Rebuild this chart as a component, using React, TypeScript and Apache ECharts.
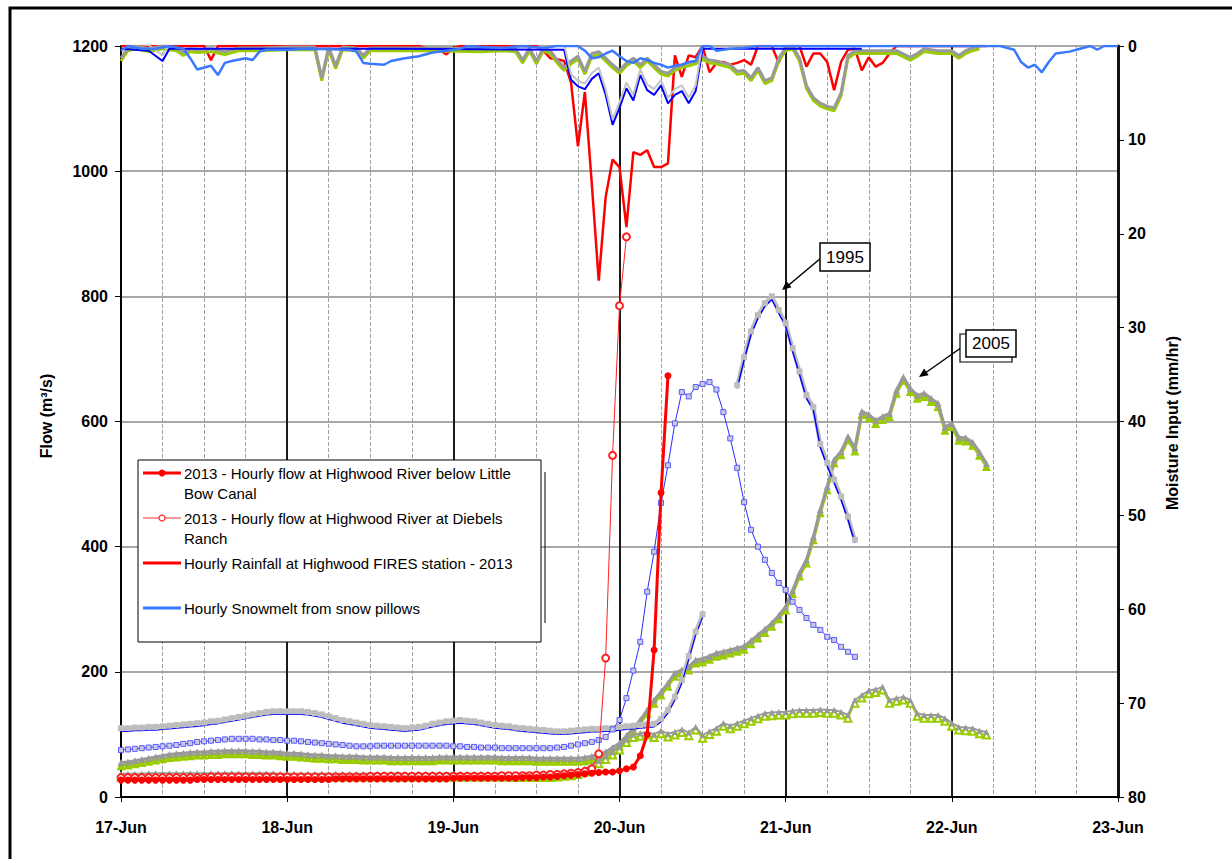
import React, { useEffect, useRef } from "react";
import * as echarts from "echarts";

const FONT = '"Liberation Sans", Arial, sans-serif';

const dayLabels = ["17-Jun", "18-Jun", "19-Jun", "20-Jun", "21-Jun", "22-Jun", "23-Jun"];

// hourly flows (m3/s), index = hours after 17-Jun 00:00 (plus start offset)
const littleBow2013 = [
  27, 27, 27, 27, 27, 27, 27, 27, 27, 27, 27, 28, 28, 28, 28, 28, 28, 28, 28, 28, 28, 28, 28, 28,
  28, 28, 28, 28, 28, 28, 28, 29, 29, 29, 29, 29, 29, 29, 29, 29, 29, 29, 29, 29, 29, 29, 29, 29,
  30, 30, 30, 30, 30, 30, 30, 30, 30, 30, 31, 31, 31, 32, 32, 33, 34, 35, 36, 37, 38, 39, 40, 40,
  42, 45, 48, 66, 100, 235, 486, 673,
];
const diebels2013 = [
  31, 31, 31, 31, 31, 31, 31, 31, 31, 31, 31, 31, 31, 32, 32, 32, 32, 32, 32, 32, 32, 32, 32, 32,
  32, 32, 32, 32, 32, 32, 32, 32, 32, 32, 32, 32, 33, 33, 33, 33, 33, 33, 33, 33, 33, 33, 33, 33,
  33, 33, 33, 33, 33, 33, 33, 34, 34, 34, 34, 34, 35, 35, 36, 36, 37, 38, 39, 41,
  45, 69, 222, 546, 785, 895,
];
const flow1995UpperA = [
  110, 110, 111, 111, 112, 112, 113, 114, 115, 116, 117, 118,
  119, 121, 122, 124, 126, 128, 130, 132, 134, 136, 137, 137,
  137, 137, 137, 136, 134, 132, 129, 126, 123, 121, 119, 117,
  115, 114, 113, 112, 111, 110, 111, 112, 114, 117, 119, 121,
  122, 123, 122, 121, 119, 117, 115, 114, 113, 111, 110, 109,
  108, 107, 106, 105, 105, 106, 107, 108, 109, 109, 110, 110,
  112, 113, 114, 115, 116, 117, 125, 139, 160, 187, 225, 264, 292,
];
const flow1995UpperBStart = 89;
const flow1995UpperB = [658, 703, 744, 770, 789, 800, 778, 757, 717, 680, 642, 623, 564, 534, 507, 480, 448, 411];
const flow1995Lower = [
  75, 76, 77, 78, 79, 80, 81, 82, 83, 85, 86, 88,
  89, 90, 91, 92, 93, 93, 93, 93, 92, 92, 91, 91,
  90, 90, 89, 88, 87, 86, 85, 84, 83, 82, 81, 81,
  81, 82, 82, 82, 82, 82, 82, 82, 82, 82, 82, 82,
  81, 81, 80, 80, 79, 79, 79, 78, 78, 78, 78, 78,
  78, 78, 78, 79, 80, 82, 84, 86, 88, 91, 96, 108,
  123, 158, 202, 248, 328, 392, 470, 530, 597, 647, 640, 655,
  660, 663, 651, 615, 573, 526, 471, 427, 400, 379, 358, 342,
  331, 312, 299, 286, 275, 267, 256, 251, 240, 232, 224,
];
const flow2005Upper = [
  55, 56, 58, 60, 62, 64, 66, 68, 69, 70, 71, 72,
  72, 73, 73, 74, 74, 74, 74, 73, 73, 72, 72, 71,
  70, 70, 69, 68, 67, 67, 66, 66, 65, 65, 65, 64,
  64, 64, 64, 63, 63, 63, 63, 63, 63, 63, 64, 64,
  64, 64, 64, 64, 64, 64, 64, 63, 63, 63, 63, 63,
  62, 62, 62, 62, 62, 62, 62, 63, 65, 67, 72, 79,
  86, 98, 110, 123, 139, 155, 168, 182, 198, 203, 208, 219,
  221, 225, 230, 232, 235, 238, 241, 250, 259, 268, 278, 290,
  304, 330, 358, 379, 416, 459, 496, 539, 552, 576, 558, 616,
  611, 602, 608, 613, 650, 671, 653, 642, 645, 637, 629, 591,
  597, 575, 574, 567, 551, 533,
];
const flow2005Lower = [
  37, 37, 37, 37, 38, 38, 38, 38, 38, 38, 38, 38,
  38, 38, 38, 38, 38, 38, 38, 38, 38, 38, 38, 37,
  37, 37, 37, 37, 37, 37, 37, 37, 37, 37, 37, 37,
  37, 37, 37, 37, 37, 37, 37, 37, 37, 37, 37, 37,
  37, 37, 37, 37, 37, 37, 37, 37, 37, 36, 36, 36,
  36, 36, 36, 37, 38, 39, 41, 45, 51, 58, 65, 72,
  80, 92, 100, 102, 104, 100, 106, 101, 104, 108, 103, 112,
  99, 105, 110, 118, 114, 118, 122, 126, 130, 134, 135, 136,
  136, 138, 139, 139, 139, 140, 139, 139, 136, 131, 155, 163,
  170, 172, 176, 155, 158, 160, 155, 134, 131, 131, 131, 126,
  118, 112, 111, 110, 106, 104,
];

// moisture input (mm/hr) as [hour, value]
const rain2013 = [
  [0, 0], [12, 0], [13, 1.5], [14, 0], [43, 0], [44, 0.2], [46, 0.4], [47, 0.9], [48, 0.2], [49, 0],
  [60, 0], [61, 0.5], [62, 1.3], [63, 1.4], [64, 1.6], [65, 3.9], [66, 10.7], [67, 4.9], [68, 14.7],
  [69, 25], [70, 16.1], [71, 12.1], [72, 12.9], [73, 19.3], [74, 11.3], [75, 11.6], [76, 11.1],
  [77, 12.9], [78, 12.9], [79, 12.5], [80, 1], [81, 3.3], [82, 1], [83, 1.2], [84, 0], [85, 2.8],
  [86, 1.8], [87, 1.7], [88, 2], [89, 1.8], [90, 1.5], [91, 2], [92, 0], [94, 0], [95, 1.8], [96, 0],
  [98, 0], [99, 2.2], [100, 0.8], [101, 0.8], [102, 1.7], [103, 4.7], [104, 1.7], [105, 0.4],
  [106, 0.3], [107, 2.6], [108, 1.2], [109, 2.2], [110, 1.8], [111, 0.8], [112, 0], [125, 0],
];
const snowmelt = [
  [0, 0.5], [1, 0], [3, 0.3], [5, 0.3], [7, 0], [9, 0.3], [10, 1.3], [11, 2.5], [13, 2.1], [14, 3.1],
  [15, 1.8], [16, 1.6], [18, 1.3], [19, 1.5], [20, 0.6], [21, 0.4], [24, 0.4], [27, 0.3], [33, 0.4],
  [34, 0.6], [35, 1.8], [36, 1.9], [38, 2], [39, 1.6], [41, 1.3], [43, 1.1], [45, 0.7], [47, 0.5],
  [49, 0.3], [50, 0], [55, 0.2], [58, 0], [61, 0.2], [63, 0], [66, 0], [67, 0.5], [68, 1.3], [69, 1.2],
  [70, 0.8], [71, 0.5], [72, 1.1], [73, 1.6], [74, 1.8], [75, 1.3], [76, 1.5], [77, 1.8], [78, 2],
  [79, 2.3], [80, 2.1], [81, 2], [82, 1.7], [83, 1.6], [84, 0], [85, 0], [86, 0.5], [88, 0.3],
  [90, 0.2], [92, 0], [125, 0], [127, 0], [129, 0.4], [130, 1.7], [131, 2.3], [132, 2], [133, 2.8],
  [134, 1.7], [135, 0.8], [137, 0.6], [138, 0.4], [140, 0], [141, 0.4], [142, 0], [144, 0],
];
const rain1995 = [
  [0, 0.3], [4, 0.5], [6, 1.6], [7, 0.3], [30, 0.3], [40, 0.3], [64, 0.4], [65, 3.6], [66, 4.3],
  [67, 4.6], [68, 3.5], [69, 2.9], [70, 5.2], [71, 8.4], [72, 6.6], [73, 4.5], [74, 5.8], [75, 3.1],
  [76, 4.7], [77, 5.2], [78, 4.2], [79, 6.1], [80, 5.2], [81, 4.8], [82, 6.1], [83, 4.8], [84, 0.3],
  [107, 0.3],
];
const rain2005 = [
  [0, 1.3], [1, 0.2], [2, 0], [4, 0.3], [6, 0], [8, 0.2], [9, 0.7], [10, 0.3], [11, 0.4], [13, 0.3],
  [15, 0.6], [17, 0.2], [20, 0.2], [24, 0.1], [28, 0.1], [29, 3.4], [30, 0.1], [31, 2.1], [32, 0.1],
  [34, 0.2], [35, 1], [36, 0.2], [45, 0.2], [52, 0.3], [55, 0.2], [57, 0.3], [58, 1.5], [59, 0.2],
  [60, 1.6], [61, 0.2], [62, 0.5], [63, 1.5], [64, 2.3], [65, 1.6], [66, 1.1], [67, 2.7], [68, 0.8],
  [69, 0.6], [70, 1.3], [71, 2], [72, 2.6], [73, 1.8], [74, 1.3], [75, 2], [76, 1.3], [77, 2],
  [78, 2.7], [79, 2.9], [80, 2.3], [81, 2], [82, 1.8], [83, 1.6], [84, 1.1], [85, 1.5], [86, 1.6],
  [87, 1.8], [88, 2], [89, 2.7], [90, 2.6], [91, 3.4], [92, 2.3], [93, 3.7], [94, 3.4], [95, 1.3],
  [96, 0.2], [97, 0], [98, 1.3], [99, 4.2], [100, 5.5], [101, 6.1], [102, 6.4], [103, 6.6], [104, 5],
  [105, 1], [106, 0.5], [108, 0.5], [110, 0.5], [112, 0.5], [114, 1.2], [115, 0.8], [116, 0.3],
  [118, 0.5], [120, 0.5], [121, 1], [122, 0.5], [123, 0.2], [124, 0],
];

const legendLabels = [
  ["2013 - Hourly flow at Highwood River below Little", "Bow Canal"],
  ["2013 - Hourly flow at Highwood River at Diebels", "Ranch"],
  ["Hourly Rainfall at Highwood FIRES station - 2013"],
  ["Hourly Snowmelt from snow pillows"],
];

const hourly = (start: number, vals: number[]) => vals.map((v, i) => [start + i, v]);

function buildOption() {
  const base = { type: "line", silent: true, emphasis: { disabled: true }, animation: false };
  const noSym = { symbol: "none", showSymbol: false };

  const series: any[] = [
    // moisture input band (right axis)
    { ...base, ...noSym, name: "Hourly Rainfall at Highwood FIRES station - 2013", yAxisIndex: 1, data: rain2013, lineStyle: { color: "#ff0000", width: 2.5 }, z: 2 },
    { ...base, ...noSym, name: "2005 rain g", yAxisIndex: 3, data: rain2005, lineStyle: { color: "#99cc00", width: 3 }, z: 3 },
    { ...base, ...noSym, name: "2005 rain", yAxisIndex: 1, data: rain2005, lineStyle: { color: "#999999", width: 3 }, z: 4 },
    { ...base, ...noSym, name: "1995 rain", yAxisIndex: 1, data: rain1995, lineStyle: { color: "#0000ff", width: 2 }, z: 4 },
    { ...base, ...noSym, name: "1995 rain g", yAxisIndex: 4, data: rain1995, lineStyle: { color: "#c4c4c4", width: 2 }, z: 4 },
    { ...base, ...noSym, name: "Hourly Snowmelt from snow pillows", yAxisIndex: 1, data: snowmelt, lineStyle: { color: "#3a78ff", width: 2.5 }, z: 5 },
    // flows (left axis)
    {
      ...base, name: "2005 upper g", yAxisIndex: 2, data: hourly(0, flow2005Upper),
      symbol: "triangle", symbolSize: 9, itemStyle: { color: "#99cc00" }, lineStyle: { color: "#99cc00", width: 3 }, z: 6,
    },
    {
      ...base, name: "2005 upper", yAxisIndex: 0, data: hourly(0, flow2005Upper),
      symbol: "triangle", symbolSize: 7, itemStyle: { color: "#999999" }, lineStyle: { color: "#999999", width: 3 }, z: 7,
    },
    {
      ...base, name: "2005 lower g", yAxisIndex: 2, data: hourly(0, flow2005Lower),
      symbol: "emptyTriangle", symbolSize: 7, itemStyle: { color: "#99cc00", borderWidth: 1.5 }, lineStyle: { color: "#99cc00", width: 1.5 }, z: 6,
    },
    {
      ...base, name: "2005 lower", yAxisIndex: 0, data: hourly(0, flow2005Lower),
      symbol: "triangle", symbolSize: 6, itemStyle: { color: "#999999" }, lineStyle: { color: "#999999", width: 2 }, z: 7,
    },
    {
      ...base, name: "1995 upper a", yAxisIndex: 0, data: hourly(0, flow1995UpperA),
      symbol: "rect", symbolSize: 6, itemStyle: { color: "#bdbdbd" }, lineStyle: { color: "#bdbdbd", width: 4 }, z: 8,
    },
    { ...base, ...noSym, name: "1995 upper a b", yAxisIndex: 2, data: hourly(0, flow1995UpperA), lineStyle: { color: "#0000ff", width: 1.2 }, z: 8 },
    {
      ...base, name: "1995 upper b", yAxisIndex: 0, data: hourly(flow1995UpperBStart, flow1995UpperB),
      symbol: "rect", symbolSize: 6, itemStyle: { color: "#bdbdbd" }, lineStyle: { color: "#bdbdbd", width: 4 }, z: 8,
    },
    { ...base, ...noSym, name: "1995 upper b b", yAxisIndex: 2, data: hourly(flow1995UpperBStart, flow1995UpperB), lineStyle: { color: "#0000ff", width: 1.5 }, z: 8 },
    {
      ...base, name: "1995 lower", yAxisIndex: 0, data: hourly(0, flow1995Lower),
      symbol: "rect", symbolSize: 5, itemStyle: { color: "#c9c9dd", borderColor: "#5a5aff", borderWidth: 1 },
      lineStyle: { color: "#2b2bff", width: 1 }, z: 9,
    },
    {
      ...base, name: "2013 - Hourly flow at Highwood River at Diebels Ranch", yAxisIndex: 0, data: hourly(0, diebels2013),
      symbol: "emptyCircle", symbolSize: 7, itemStyle: { color: "#ff2020", borderWidth: 1 }, lineStyle: { color: "#ff2020", width: 1 }, z: 10,
    },
    {
      ...base, name: "2013 - Hourly flow at Highwood River below Little Bow Canal", yAxisIndex: 0, data: hourly(0, littleBow2013),
      symbol: "circle", symbolSize: 7, itemStyle: { color: "#ff0000" }, lineStyle: { color: "#ff0000", width: 3 }, z: 11,
    },
  ];

  const tickFont = { fontSize: 16, fontWeight: "bold", color: "#000", fontFamily: FONT };

  const legendRows = [473, 518, 563, 608];
  const graphic: any[] = [
    { type: "rect", z: 100, silent: true, shape: { x: 10, y: 8, width: 1240, height: 880 }, style: { fill: "none", stroke: "#000", lineWidth: 3 } },
    // axis names
    {
      type: "text", z: 100, x: 46, y: 416, rotation: Math.PI / 2,
      style: { text: "Flow (m³/s)", align: "center", verticalAlign: "middle", fontSize: 16, fontWeight: "bold", fontFamily: FONT, fill: "#000" },
    },
    {
      type: "text", z: 100, x: 1172, y: 423, rotation: Math.PI / 2,
      style: { text: "Moisture Input (mm/hr)", align: "center", verticalAlign: "middle", fontSize: 16, fontWeight: "bold", fontFamily: FONT, fill: "#000" },
    },
    // legend box
    { type: "line", z: 99, shape: { x1: 545, y1: 472, x2: 545, y2: 623 }, style: { stroke: "#000", lineWidth: 1 } },
    { type: "rect", z: 100, shape: { x: 138, y: 460, width: 403, height: 182 }, style: { fill: "#fff", stroke: "#000", lineWidth: 1 } },
    { type: "line", z: 101, shape: { x1: 143, y1: legendRows[0], x2: 181, y2: legendRows[0] }, style: { stroke: "#ff0000", lineWidth: 3 } },
    { type: "circle", z: 102, shape: { cx: 162, cy: legendRows[0], r: 3.5 }, style: { fill: "#ff0000" } },
    { type: "line", z: 101, shape: { x1: 143, y1: legendRows[1], x2: 181, y2: legendRows[1] }, style: { stroke: "#ff3030", lineWidth: 1.2 } },
    { type: "circle", z: 102, shape: { cx: 162, cy: legendRows[1], r: 3 }, style: { fill: "#fff", stroke: "#ff2020", lineWidth: 1.2 } },
    { type: "line", z: 101, shape: { x1: 143, y1: legendRows[2], x2: 181, y2: legendRows[2] }, style: { stroke: "#ff0000", lineWidth: 3 } },
    { type: "line", z: 101, shape: { x1: 143, y1: legendRows[3], x2: 181, y2: legendRows[3] }, style: { stroke: "#3a78ff", lineWidth: 3 } },
    // annotations
    { type: "line", z: 100, shape: { x1: 821, y1: 258, x2: 784, y2: 289 }, style: { stroke: "#000", lineWidth: 1.5 } },
    { type: "polygon", z: 100, shape: { points: [[782, 290], [791.5, 287.3], [786.3, 281.1]] }, style: { fill: "#000" } },
    { type: "rect", z: 101, shape: { x: 820, y: 243, width: 50, height: 28 }, style: { fill: "#fff", stroke: "#000", lineWidth: 1.5 } },
    { type: "text", z: 102, x: 845, y: 257, style: { text: "1995", align: "center", verticalAlign: "middle", fontSize: 17, fontFamily: FONT, fill: "#000" } },
    { type: "line", z: 100, shape: { x1: 965, y1: 345, x2: 921, y2: 376 }, style: { stroke: "#000", lineWidth: 1.5 } },
    { type: "polygon", z: 100, shape: { points: [[919, 377], [928.7, 375.2], [924.1, 368.6]] }, style: { fill: "#000" } },
    { type: "rect", z: 101, shape: { x: 960, y: 334, width: 52, height: 28 }, style: { fill: "#fff", stroke: "#000", lineWidth: 1.2 } },
    { type: "rect", z: 102, shape: { x: 966, y: 330, width: 50, height: 27 }, style: { fill: "#fff", stroke: "#000", lineWidth: 1.5 } },
    { type: "text", z: 103, x: 991, y: 343.5, style: { text: "2005", align: "center", verticalAlign: "middle", fontSize: 17, fontFamily: FONT, fill: "#000" } },
  ];
  const textRows = [
    [legendLabels[0][0], 473], [legendLabels[0][1], 493],
    [legendLabels[1][0], 518], [legendLabels[1][1], 538],
    [legendLabels[2][0], 563],
    [legendLabels[3][0], 608],
  ];
  textRows.forEach(([t, y]) => {
    graphic.push({
      type: "text", z: 102, x: 184, y: y as number,
      style: { text: t as string, align: "left", verticalAlign: "middle", fontSize: 15, fontFamily: FONT, fill: "#000" },
    });
  });

  return {
    animation: false,
    backgroundColor: "#fff",
    grid: { left: 121, right: 114, top: 46, bottom: 62, containLabel: false },
    xAxis: {
      type: "value", min: 0, max: 144, interval: 24,
      axisLine: { show: true, onZero: false, lineStyle: { color: "#000", width: 2 } },
      axisTick: { show: true, length: 5, lineStyle: { color: "#000", width: 1 } },
      axisLabel: { ...tickFont, margin: 22, showMinLabel: true, showMaxLabel: true, formatter: (v: number) => dayLabels[Math.round(v / 24)] },
      splitLine: { show: true, lineStyle: { color: "#1a1a1a", width: 2 } },
      minorTick: { show: false, splitNumber: 4 },
      minorSplitLine: { show: true, lineStyle: { color: "#a0a0a0", width: 1, type: "dashed" } },
    },
    yAxis: [
      {
        type: "value", min: 0, max: 1200, interval: 200, position: "left",
        axisLine: { show: true, lineStyle: { color: "#000", width: 2 } },
        axisTick: { show: true, length: 6, lineStyle: { color: "#000" } },
        axisLabel: { ...tickFont, margin: 13, formatter: (v: number) => String(v) },
        splitLine: { show: true, lineStyle: { color: "#a8a8a8", width: 2 } },
      },
      {
        type: "value", min: 0, max: 80, interval: 10, inverse: true, position: "right",
        axisLine: { show: true, lineStyle: { color: "#111", width: 3 } },
        axisTick: { show: true, length: 6, lineStyle: { color: "#000" } },
        axisLabel: { ...tickFont, margin: 10, formatter: (v: number) => String(v) },
        splitLine: { show: false },
      },
      { type: "value", min: 5, max: 1205, show: false },
      { type: "value", min: -0.3, max: 79.7, inverse: true, show: false },
      { type: "value", min: 0.6, max: 80.6, inverse: true, show: false },
    ],
    series,
    graphic,
  };
}

export default function App() {
  const ref = useRef<HTMLDivElement>(null);
  useEffect(() => {
    if (!ref.current) return;
    const chart = echarts.init(ref.current, null, { renderer: "svg" });
    chart.setOption(buildOption() as any);
    return () => chart.dispose();
  }, []);
  return (
    <div
      ref={ref}
      style={{ position: "absolute", left: 0, top: 0, width: 1232, height: 859, background: "#fff" }}
    />
  );
}
